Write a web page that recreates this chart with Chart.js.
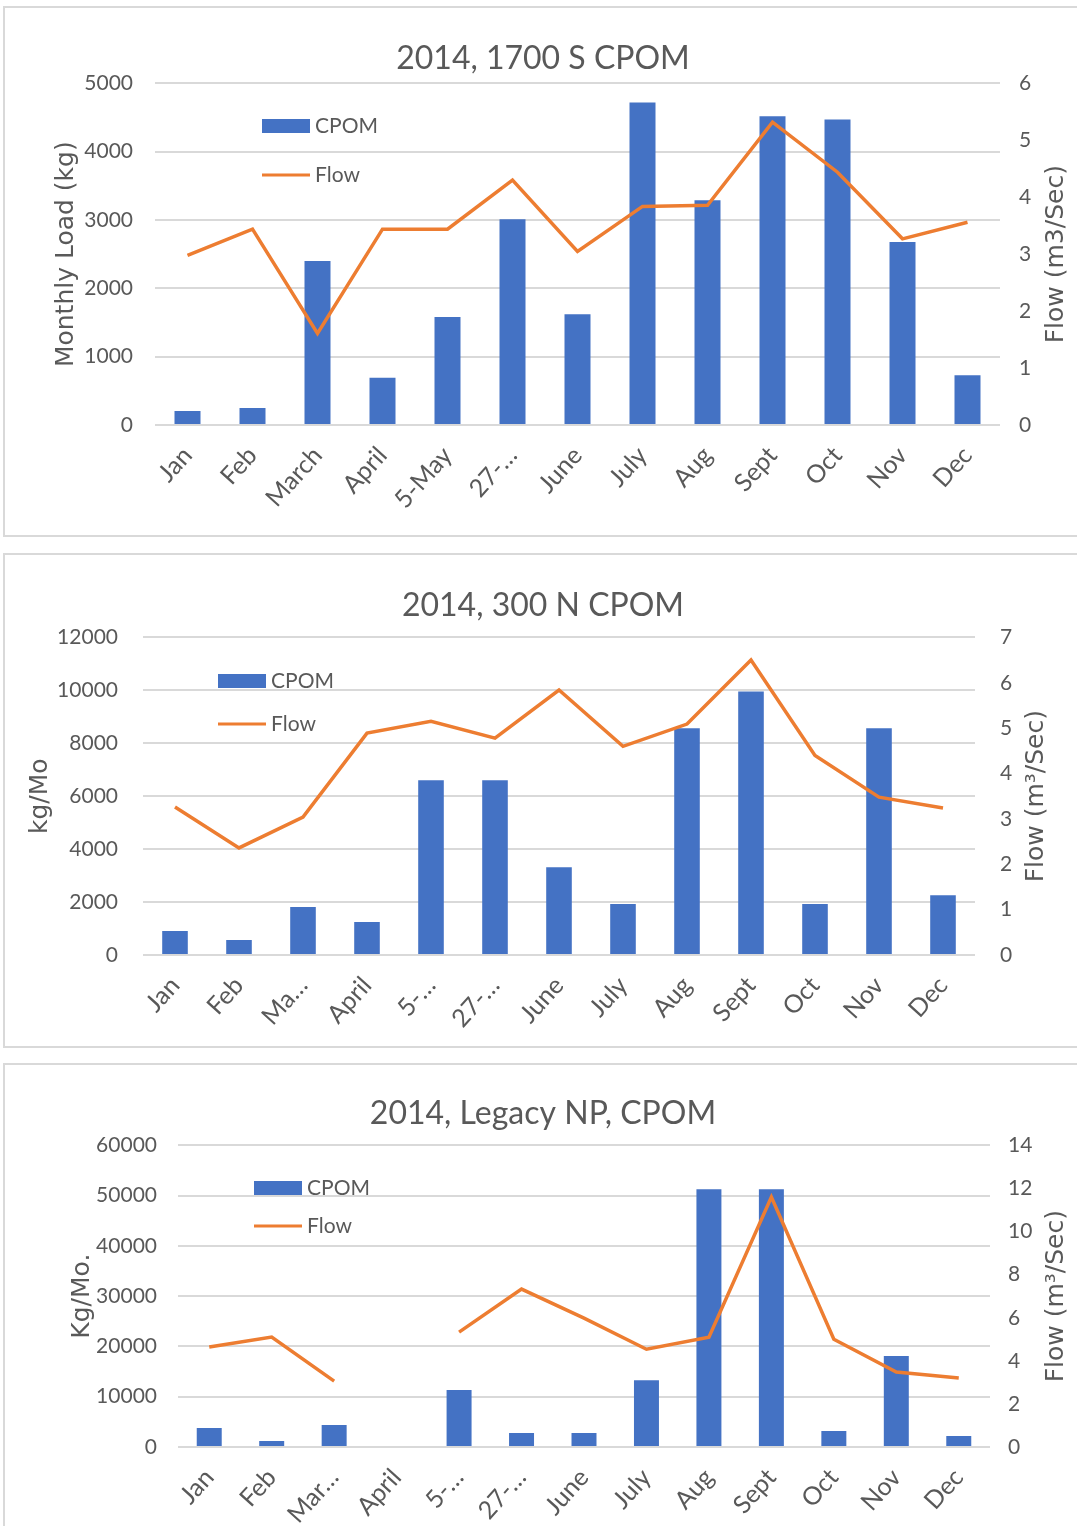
<!doctype html>
<html lang="en">
  <head>
    <meta charset="utf-8">
    <title>2014 CPOM</title>
    <script src="https://cdn.jsdelivr.net/npm/chart.js"></script>
    <style>
      html, body { margin: 0; padding: 0; background: #fff; overflow: hidden; }
      body { width: 1077px; height: 1526px; position: relative; }
      .panel { position: absolute; left: 3px; width: 1080px; border: 2px solid #d9d9d9; box-sizing: border-box; background: #fff; }
      .panel canvas { display: block; }
    </style>
  </head>
  <body>
    <div class="panel" style="top:6px;height:531px"><canvas id="c1"></canvas></div>
    <div class="panel" style="top:553px;height:495px"><canvas id="c2"></canvas></div>
    <div class="panel" style="top:1063px;height:470px"><canvas id="c3"></canvas></div>

  <script>
    // ---------------- data ----------------
    const months1 = ['Jan', 'Feb', 'March', 'April', '5-May', '27-…', 'June', 'July', 'Aug', 'Sept', 'Oct', 'Nov', 'Dec'];
    const load1 = [205, 250, 2400, 690, 1580, 3010, 1620, 4720, 3290, 4520, 4470, 2680, 730];
    const flow1 = [2.98, 3.44, 1.61, 3.44, 3.44, 4.3, 3.05, 3.84, 3.86, 5.32, 4.44, 3.27, 3.56];

    const months2 = ['Jan', 'Feb', 'Ma…', 'April', '5-…', '27-…', 'June', 'July', 'Aug', 'Sept', 'Oct', 'Nov', 'Dec'];
    const load2 = [905, 570, 1810, 1245, 6600, 6600, 3320, 1925, 8570, 9960, 1925, 8570, 2260];
    const flow2 = [3.26, 2.36, 3.04, 4.89, 5.15, 4.78, 5.84, 4.6, 5.09, 6.5, 4.4, 3.48, 3.24];

    const months3 = ['Jan', 'Feb', 'Mar…', 'April', '5-…', '27-…', 'June', 'July', 'Aug', 'Sept', 'Oct', 'Nov', 'Dec'];
    const load3 = [3780, 1200, 4370, null, 11330, 2780, 2780, 13300, 51300, 51300, 3180, 18100, 2190];
    const flow3 = [4.64, 5.1, 3.06, null, 5.33, 7.33, 5.98, 4.54, 5.1, 11.6, 5.0, 3.48, 3.2];

    const BLUE = '#4472C4';
    const ORANGE = '#ED7D31';
    const GREY = '#595959';
    const FONT = "Lato, 'Noto Sans', sans-serif";
    const WIDE = "'DejaVu Sans', Verdana, sans-serif";

    Chart.defaults.color = GREY;
    Chart.defaults.font.family = FONT;

    // legend drawn inside the plot + right axis title reading upwards
    const extras = {
      id: 'extras',
      afterDraw(chart, args, opts) {
        const ctx = chart.ctx;
        const ds = chart.data.datasets;
        const lg = opts.legend;
        ctx.save();
        ctx.font = '21px ' + FONT;
        ctx.textBaseline = 'middle';
        ctx.fillStyle = ds[0].backgroundColor;
        ctx.fillRect(lg.x, lg.y - 7, 48, 14);
        ctx.strokeStyle = ds[1].borderColor;
        ctx.lineWidth = 3;
        ctx.beginPath();
        ctx.moveTo(lg.x, lg.y + lg.gap);
        ctx.lineTo(lg.x + 48, lg.y + lg.gap);
        ctx.stroke();
        ctx.fillStyle = GREY;
        ctx.fillText(ds[0].label, lg.x + 53, lg.y);
        ctx.fillText(ds[1].label, lg.x + 53, lg.y + lg.gap);

        // right title
        const a = chart.chartArea;
        ctx.translate(opts.rightX, (a.top + a.bottom) / 2);
        ctx.rotate(-Math.PI / 2);
        ctx.textAlign = 'center';
        ctx.font = '25px ' + WIDE;
        ctx.fillText(opts.rightTitle, 0, 0);
        ctx.restore();
      }
    };

    function makeChart(id, c) {
      const el = document.getElementById(id);
      el.width = 1076;
      el.height = c.h;
      return new Chart(el, {
        type: 'bar',
        data: {
          labels: c.labels,
          datasets: [
            {
              type: 'bar', label: 'CPOM', data: c.load, yAxisID: 'y',
              backgroundColor: BLUE, categoryPercentage: 1, barPercentage: 0.4, order: 2
            },
            {
              type: 'line', label: 'Flow', data: c.flow, yAxisID: 'y1',
              borderColor: ORANGE, backgroundColor: ORANGE, borderWidth: 3.5,
              pointRadius: 0, tension: 0, spanGaps: false, order: 1
            }
          ]
        },
        options: {
          responsive: false,
          animation: false,
          layout: { padding: 0 },
          plugins: {
            legend: { display: false },
            tooltip: { enabled: false },
            title: {
              display: true, text: c.title, color: GREY,
              font: { size: 32, weight: 'normal', family: FONT },
              padding: { top: c.titleTop, bottom: c.titleBottom }
            },
            extras: { legend: c.legend, rightTitle: c.y1Title, rightX: c.y1TitleX }
          },
          scales: {
            x: {
              grid: { display: false },
              border: { display: false },
              ticks: { minRotation: 48, maxRotation: 48, padding: 8, font: { size: 25 } },
              afterFit(s) { s.height = c.xH; }
            },
            y: {
              position: 'left', min: 0, max: c.yMax,
              ticks: { stepSize: c.yStep, padding: c.yPad, font: { size: 21 }, callback: (v) => String(v) },
              grid: { color: '#d9d9d9', lineWidth: 2, drawTicks: false },
              border: { display: false },
              title: { display: true, text: c.yTitle, font: { size: 25, family: WIDE }, padding: { top: c.yTitlePad, bottom: 0 } },
              afterFit(s) { s.width = c.yW; }
            },
            y1: {
              position: 'right', min: 0, max: c.y1Max,
              ticks: { stepSize: c.y1Step, padding: c.y1Pad, font: { size: 21 } },
              grid: { display: false, drawTicks: false },
              border: { display: false },
              afterFit(s) { s.width = c.y1W; }
            }
          }
        },
        plugins: [extras]
      });
    }

    //------------------ 1700 S -----------------
    makeChart('c1', {
      h: 527, labels: months1, load: load1, flow: flow1,
      title: '2014, 1700 S CPOM', titleTop: 31, titleBottom: 6,
      yMax: 5000, yStep: 1000, yTitle: 'Monthly Load (kg)', yW: 150, yPad: 22, yTitlePad: 46,
      y1Max: 6, y1Step: 1, y1Title: 'Flow (m3/Sec)', y1W: 81, y1Pad: 19, y1TitleX: 1051,
      xH: 110,
      legend: { x: 257, y: 118, gap: 49 }
    });

    //------------------ 300 N -----------------
    makeChart('c2', {
      h: 491, labels: months2, load: load2, flow: flow2,
      title: '2014, 300 N CPOM', titleTop: 31, titleBottom: 13,
      yMax: 12000, yStep: 2000, yTitle: 'kg/Mo', yW: 138, yPad: 25, yTitlePad: 20,
      y1Max: 7, y1Step: 1, y1Title: 'Flow (m³/Sec)', y1W: 106, y1Pad: 25, y1TitleX: 1031,
      xH: 91,
      legend: { x: 213, y: 126, gap: 43 }
    });

    //------------------ Legacy NP -----------------
    makeChart('c3', {
      h: 466, labels: months3, load: load3, flow: flow3,
      title: '2014, Legacy NP, CPOM', titleTop: 29, titleBottom: 13,
      yMax: 60000, yStep: 10000, yTitle: 'Kg/Mo.', yW: 173, yPad: 21, yTitlePad: 62,
      y1Max: 14, y1Step: 2, y1Title: 'Flow (m³/Sec)', y1W: 91, y1Pad: 18, y1TitleX: 1051,
      xH: 84,
      legend: { x: 249, y: 123, gap: 38 }
    });
  </script>
  </body>
</html>
